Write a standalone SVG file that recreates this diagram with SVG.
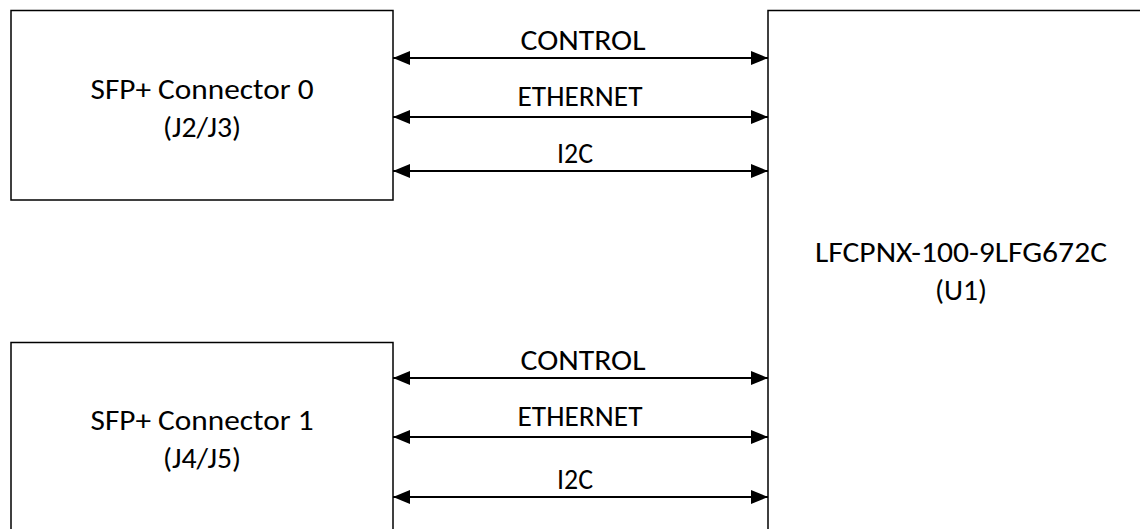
<svg xmlns="http://www.w3.org/2000/svg" width="1140" height="529" viewBox="0 0 1140 529">
<style>
.box{fill:#fff;stroke:#000;stroke-width:1.5}
.t{font-family:Carlito,Lato,"Liberation Sans",sans-serif;font-size:29px;fill:#000;text-anchor:middle}
.c{stroke:#000;stroke-width:1.8;fill:none;marker-start:url(#ah);marker-end:url(#ah)}
</style>
<defs>
<marker id="ah" viewBox="0 0 17 14" refX="17" refY="7" markerWidth="17" markerHeight="14" markerUnits="userSpaceOnUse" orient="auto-start-reverse">
<path d="M0,0 L17,7 L0,14 Z" fill="#000"/>
</marker>
</defs>
<rect width="1140" height="529" fill="#fff"/>
<g id="sfp0">
<rect class="box" x="11" y="10.5" width="382" height="189.5"/>
<text class="t" x="202" y="99" textLength="223" lengthAdjust="spacingAndGlyphs">SFP+ Connector 0</text>
<text class="t" x="202" y="137" textLength="78" lengthAdjust="spacingAndGlyphs">(J2/J3)</text>
</g>
<g id="sfp1">
<rect class="box" x="11" y="342.5" width="382" height="200"/>
<text class="t" x="202" y="430" textLength="223" lengthAdjust="spacingAndGlyphs">SFP+ Connector 1</text>
<text class="t" x="202" y="468" textLength="78" lengthAdjust="spacingAndGlyphs">(J4/J5)</text>
</g>
<g id="fpga">
<rect class="box" x="768" y="10.5" width="390" height="540"/>
<text class="t" x="961" y="262" textLength="292" lengthAdjust="spacingAndGlyphs">LFCPNX-100-9LFG672C</text>
<text class="t" x="961" y="300" textLength="52" lengthAdjust="spacingAndGlyphs">(U1)</text>
</g>
<g id="connectors">
<line class="c" x1="393" y1="58" x2="768" y2="58"/>
<line class="c" x1="393" y1="117" x2="768" y2="117"/>
<line class="c" x1="393" y1="171" x2="768" y2="171"/>
<line class="c" x1="393" y1="378" x2="768" y2="378"/>
<line class="c" x1="393" y1="437" x2="768" y2="437"/>
<line class="c" x1="393" y1="497" x2="768" y2="497"/>
<text class="t" x="583" y="50" textLength="125" lengthAdjust="spacingAndGlyphs">CONTROL</text>
<text class="t" x="580" y="106" textLength="125" lengthAdjust="spacingAndGlyphs">ETHERNET</text>
<text class="t" x="575" y="163" textLength="36" lengthAdjust="spacingAndGlyphs">I2C</text>
<text class="t" x="583" y="370" textLength="125" lengthAdjust="spacingAndGlyphs">CONTROL</text>
<text class="t" x="580" y="426" textLength="125" lengthAdjust="spacingAndGlyphs">ETHERNET</text>
<text class="t" x="575" y="489" textLength="36" lengthAdjust="spacingAndGlyphs">I2C</text>
</g>
</svg>
